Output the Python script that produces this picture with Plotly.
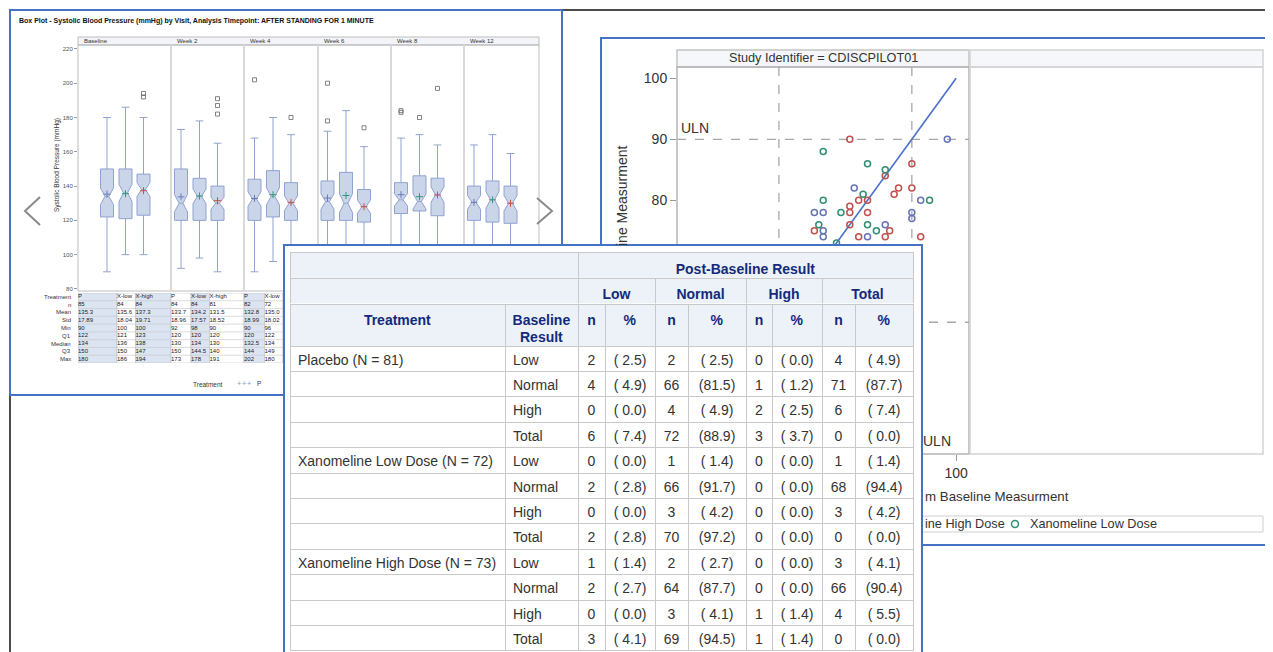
import plotly.graph_objects as go

W, H = 1273, 652
OFF = 8  # page body margin of the html page
def fx(p): return (p - OFF) / W
def fy(p): return 1 - (p - OFF) / H

FONT = "Liberation Sans, Arial, sans-serif"
BLUE = "#4472c4"
NBSP = "\u00a0"

# ================= Box plot data =================
visits = ["Baseline", "Week 2", "Week 4", "Week 6", "Week 8", "Week 12"]
treatments = ["P", "X-low", "X-high"]
q1_vals = [[122, 120, 120, 120, 124, 120],
           [121, 120, 122, 120, 125.5, 119],
           [123, 120, 120, 119, 122.7, 118.3]]
median_vals = [[134, 130, 132.5, 131, 132, 130.5],
               [136, 134, 134, 130, 131, 132],
               [138, 130, 130, 128, 135, 130]]
q3_vals = [[150, 150, 144, 143, 142, 140],
           [150, 144.5, 149, 148, 146, 143],
           [147, 140, 142, 138, 144.6, 140]]
low_whisker = [[90, 92, 90, 92, 94, 95],
               [100, 98, 96, 95, 96, 94],
               [100, 90, 92, 94, 96, 96]]
up_whisker = [[180, 173, 168, 172, 168, 164],
              [186, 178, 180, 184, 170, 170],
              [180, 165, 170, 163, 164, 159]]
mean_vals = [[135.3, 133.7, 132.8, 133.0, 135.0, 130.5],
             [135.6, 134.2, 135.0, 134.5, 133.8, 132.0],
             [137.3, 131.5, 130.5, 128.0, 134.8, 130.0]]
notch_half = [[4.8, 5.1, 4.2, 4.5, 3.6, 4.0],
              [5.0, 4.2, 5.0, 5.5, 4.5, 4.8],
              [4.1, 3.5, 4.3, 3.8, 4.5, 4.5]]
outlier_visit = [0, 0, 1, 1, 1, 2, 2, 3, 3, 3, 4, 4, 4, 4]
outlier_trt = [2, 2, 2, 2, 2, 0, 2, 0, 0, 2, 0, 0, 1, 2]
outlier_value = [192, 194, 182, 187, 191, 202, 180, 178, 200, 174, 183, 184, 180, 197]
bp_ticks = [80, 100, 120, 140, 160, 180, 200, 220]
stat_rows = ["Treatment", "n", "Mean", "Std", "Min", "Q1", "Median", "Q3", "Max"]
stat_n = [[85, 84, 84], [84, 84, 81], [82, 72]]
stat_std = [[17.89, 18.04, 19.71], [18.96, 17.57, 18.52], [18.99, 18.02]]

# ================= Scatter data =================
sc_groups = ["Placebo", "Xanomeline High Dose", "Xanomeline Low Dose"]
placebo_x = [98, 77, 92, 68, 70, 90, 90, 84, 70, 70, 80]
placebo_y = [90, 82, 80, 78, 78, 78, 77, 76, 75, 74, 74]
high_x = [76, 90, 84, 87, 86, 90, 78, 80, 76, 76, 80, 76, 68, 85, 78, 84, 92]
high_y = [90, 86, 84, 82, 81, 82, 80, 80, 78, 79, 78, 76, 75, 75, 74, 74, 74]
low_x = [70, 80, 84, 79, 94, 70, 74, 69, 80, 82, 73]
low_y = [88, 86, 85, 81, 80, 80, 78, 76, 76, 75, 73]
uln_value = 90
lln_value = 60
identity_ends = [38, 100]
sc_xticks = [100]          # visible x tick
sc_yticks = [80, 90, 100]  # visible y ticks

# ================= Shift table data =================
tbl_treat = ["Placebo (N = 81)", "Xanomeline Low Dose (N = 72)", "Xanomeline High Dose (N = 73)"]
tbl_base = ["Low", "Normal", "High", "Total"]
post_groups = ["Low", "Normal", "High", "Total"]
tbl_n = [
    [[2, 2, 0, 4], [4, 66, 1, 71], [0, 4, 2, 6], [6, 72, 3, 0]],
    [[0, 1, 0, 1], [2, 66, 0, 68], [0, 3, 0, 3], [2, 70, 0, 0]],
    [[1, 2, 0, 3], [2, 64, 0, 66], [0, 3, 1, 4], [3, 69, 1, 0]],
]
tbl_pct = [
    [[2.5, 2.5, 0.0, 4.9], [4.9, 81.5, 1.2, 87.7], [0.0, 4.9, 2.5, 7.4], [7.4, 88.9, 3.7, 0.0]],
    [[0.0, 1.4, 0.0, 1.4], [2.8, 91.7, 0.0, 94.4], [0.0, 4.2, 0.0, 4.2], [2.8, 97.2, 0.0, 0.0]],
    [[1.4, 2.7, 0.0, 4.1], [2.7, 87.7, 0.0, 90.4], [0.0, 4.1, 1.4, 5.5], [4.1, 94.5, 1.4, 0.0]],
]

# ================= layout constants =================
col_edges = [78, 171, 244, 318, 391, 464, 539]
box_anchor = [97, 171, 244.5, 317.5, 391, 464]
box_offset = [10, 28.5, 46.5]
def bpos(v, t):
    return box_anchor[v] + box_offset[t]

BOX_FILL = "#cbd5ea"
BOX_LINE = "#8fa2d0"
MEAN_COLORS = ["#6b7bb8", "#2e9a7a", "#c8504a"]
SC_COLORS = ["#6572b6", "#c0504d", "#2f8f72"]

fig = go.Figure()
shapes = []
ann = []

def rect(x0, y0, x1, y1, line="#bdbdbd", width=1, fill=None, layer="below"):
    return dict(type="rect", xref="paper", yref="paper", x0=fx(x0), x1=fx(x1), y0=fy(y0), y1=fy(y1),
                line=dict(color=line, width=width), layer=layer,
                fillcolor=fill if fill else "rgba(0,0,0,0)")

def text(x, y, s, size=12, color="#333", xanchor="center", yanchor="middle", angle=0, bold=False):
    ann.append(dict(xref="paper", yref="paper", x=fx(x), y=fy(y), text=("<b>%s</b>" % s) if bold else s,
                    showarrow=False, xanchor=xanchor, yanchor=yanchor, textangle=angle,
                    font=dict(family=FONT, size=size, color=color)))

# ---- slide frame + panels (background) ----
shapes.append(dict(type="line", xref="paper", yref="paper", x0=fx(10), x1=fx(10), y0=fy(10), y1=fy(700),
                   line=dict(color="#111", width=1.5), layer="below"))
shapes.append(dict(type="line", xref="paper", yref="paper", x0=fx(10), x1=fx(1300), y0=fy(10), y1=fy(10),
                   line=dict(color="#111", width=1.5), layer="below"))
shapes.append(rect(601, 38, 1300, 545, line=BLUE, width=2, fill="white"))
shapes.append(rect(10, 10, 562, 395, line=BLUE, width=2, fill="white"))

# ---- box plot panel ----
text(17, 21, "Box Plot - Systolic Blood Pressure (mmHg) by Visit, Analysis Timepoint: AFTER STANDING FOR 1 MINUTE",
     size=7, color="#111", xanchor="left", bold=True)
shapes.append(rect(78, 37, 539, 45, fill="#f2f4f9"))
shapes.append(rect(78, 45, 539, 291))
for v, name in enumerate(visits):
    text(col_edges[v] + 4, 41.5, name, size=6, xanchor="left")
for e in col_edges[1:-1]:
    shapes.append(dict(type="line", xref="x", yref="y domain", x0=e, x1=e, y0=0, y1=1,
                       line=dict(color="#d9d9d9", width=2), layer="below"))
text(57, 165, "Systolic Blood Pressure (mmHg)", size=6.5, angle=-90)
# carousel arrows
shapes.append(dict(type="path", xref="paper", yref="paper",
                   path="M %f,%f L %f,%f L %f,%f" % (fx(40), fy(197), fx(25), fy(211), fx(40), fy(225)),
                   line=dict(color="#8a8a8a", width=2), layer="below"))
shapes.append(dict(type="path", xref="paper", yref="paper",
                   path="M %f,%f L %f,%f L %f,%f" % (fx(537), fy(198), fx(552), fy(211), fx(537), fy(224)),
                   line=dict(color="#8a8a8a", width=2), layer="below"))

for t, trt in enumerate(treatments):
    xs = [bpos(v, t) for v in range(len(visits))]
    fig.add_trace(go.Box(
        x=xs, q1=q1_vals[t], median=median_vals[t], q3=q3_vals[t],
        lowerfence=low_whisker[t], upperfence=up_whisker[t], notchspan=notch_half[t],
        notched=True, notchwidth=0.35, width=13, whiskerwidth=0.6,
        fillcolor=BOX_FILL, line=dict(color=BOX_LINE, width=1),
        boxpoints=False, xaxis="x", yaxis="y", showlegend=False, hoverinfo="skip", name=trt))
    fig.add_trace(go.Scatter(
        x=xs, y=mean_vals[t], mode="markers", xaxis="x", yaxis="y", showlegend=False, hoverinfo="skip",
        marker=dict(symbol="cross-thin", size=5, line=dict(width=1, color=MEAN_COLORS[t]))))

fig.add_trace(go.Scatter(
    x=[bpos(v, t) for v, t in zip(outlier_visit, outlier_trt)], y=outlier_value,
    mode="markers", xaxis="x", yaxis="y", showlegend=False, hoverinfo="skip",
    marker=dict(symbol="square-open", size=4, color="#666", line=dict(width=0.8, color="#666"))))

# ---- stats table under the box plot ----
def fmtv(v):
    return f"{v:g}"

tx, ty, ts = [], [], []
for v in range(len(visits)):
    for t in range(3):
        left = col_edges[v] if t == 0 else bpos(v, t - 1) + 10
        right = col_edges[v + 1] if t == 2 else bpos(v, t) + 10
        k = 3 * v + t
        shapes.append(dict(type="rect", xref="x2", yref="y2", x0=left, x1=right, y0=0, y1=len(stat_rows),
                           fillcolor="#dce4f2" if k % 2 == 0 else "white",
                           line=dict(color="#bfbfbf", width=0.6), layer="below"))
        if v < len(stat_n) and t < len(stat_n[v]):
            vals = [treatments[t], str(stat_n[v][t]), f"{mean_vals[t][v]:.1f}", f"{stat_std[v][t]:.2f}",
                    fmtv(low_whisker[t][v]), fmtv(q1_vals[t][v]), fmtv(median_vals[t][v]), fmtv(q3_vals[t][v]),
                    fmtv(max([up_whisker[t][v]] + [o for ov, ot, o in zip(outlier_visit, outlier_trt, outlier_value)
                                                   if ov == v and ot == t]))]
            for r, s in enumerate(vals):
                tx.append(left)
                ty.append(r + 0.5)
                ts.append(s)
for r in range(1, len(stat_rows)):
    shapes.append(dict(type="line", xref="x2", yref="y2", x0=col_edges[0], x1=col_edges[-1], y0=r, y1=r,
                       line=dict(color="#c4c4c4", width=0.6), layer="below"))
fig.add_trace(go.Scatter(x=tx, y=ty, text=ts, mode="text", textposition="middle right",
                         textfont=dict(family=FONT, size=6, color="#222"), xaxis="x2", yaxis="y2",
                         showlegend=False, hoverinfo="skip", cliponaxis=False))
for r, name in enumerate(stat_rows):
    text(73, 293 + (r + 0.5) * 70 / 9, name, size=6, xanchor="right")
# legend of the box plot (visible part)
text(208, 384, "Treatment", size=6.5)
for i, xx in enumerate([239, 244.5, 250]):
    text(xx, 383, "+", size=7.5, color="#8c9acb")
text(259, 383.5, "P", size=6.5)

# ---- scatter panel ----
shapes.append(rect(677, 50, 969, 67, line="#c4c4c4", width=1.5, fill="#f6f7fb"))
shapes.append(rect(677, 67, 969, 454, line="#b5b5b5", width=1.5))
shapes.append(rect(970, 50, 1263, 67, line="#d4d4d4", width=1.5, fill="#f6f7fb"))
shapes.append(rect(970, 67, 1263, 454, line="#d4d4d4", width=1.5))
text(823, 58.5, "Study Identifier = CDISCPILOT01", size=12.7)
for val in (uln_value, lln_value):
    shapes.append(dict(type="line", xref="x3 domain", yref="y3", x0=0, x1=1, y0=val, y1=val,
                       line=dict(color="#a8a8a8", width=1.3, dash="dash"), layer="below"))
    shapes.append(dict(type="line", xref="x3", yref="y3 domain", x0=val, x1=val, y0=0, y1=1,
                       line=dict(color="#a8a8a8", width=1.3, dash="dash"), layer="below"))
ann.append(dict(xref="x3 domain", yref="y3", x=0.008, y=uln_value, text="ULN", showarrow=False,
                xanchor="left", yanchor="bottom", yshift=1, font=dict(family=FONT, size=14, color="#333")))
ann.append(dict(xref="x3", yref="y3 domain", x=uln_value, y=0, text="ULN", showarrow=False,
                xanchor="left", yanchor="bottom", xshift=9, yshift=3, font=dict(family=FONT, size=14, color="#333")))

fig.add_trace(go.Scatter(x=identity_ends, y=identity_ends, mode="lines", xaxis="x3", yaxis="y3",
                         line=dict(color="#4a70c8", width=1.6), showlegend=False, hoverinfo="skip"))
for gx, gy, col, nm in [(placebo_x, placebo_y, SC_COLORS[0], sc_groups[0]),
                        (high_x, high_y, SC_COLORS[1], sc_groups[1]),
                        (low_x, low_y, SC_COLORS[2], sc_groups[2])]:
    fig.add_trace(go.Scatter(x=gx, y=gy, mode="markers", xaxis="x3", yaxis="y3", name=nm, showlegend=False,
                             marker=dict(symbol="circle-open", size=6, color=col, line=dict(width=1.5, color=col))))

text(622, 196, "ine Measurment", size=14, angle=-90)
text(923, 496, "m Baseline Measurment", size=13.3, xanchor="left")
shapes.append(rect(640, 516, 1263, 532, line="#cfcfcf", width=1))
text(923, 524, "ine High Dose", size=12.7, xanchor="left")
shapes.append(dict(type="circle", xref="paper", yref="paper", x0=fx(1011.5), x1=fx(1018.5), y0=fy(520.5), y1=fy(527.5),
                   line=dict(color=SC_COLORS[2], width=1.5), layer="below"))
text(1028, 524, "Xanomeline Low Dose", size=12.7, xanchor="left")

# ---- shift table (front panel) ----
HDR_FILL = "#edf1f8"
HDR_FONT = "#132a7a"
GRID = "#c9c9c9"
# opaque white backing of the table panel
fig.add_trace(go.Table(domain=dict(x=[fx(284), fx(922)], y=[0, fy(245)]), columnwidth=[1],
                       header=dict(values=[""], height=360, fill_color="white", line_color="white"),
                       cells=dict(values=[[""]], height=30, fill_color="white", line_color="white")))
fig.add_trace(go.Table(domain=dict(x=[fx(290), fx(913)], y=[fy(278.3), fy(252.7)]), columnwidth=[288, 335],
                       header=dict(values=["", "<b>Post-Baseline Result</b>"], height=25.6, fill_color=HDR_FILL,
                                   line_color=GRID, align="center",
                                   font=dict(family=FONT, size=14, color=HDR_FONT))))
fig.add_trace(go.Table(domain=dict(x=[fx(290), fx(913)], y=[fy(304), fy(278.3)]), columnwidth=[288, 77, 91, 76, 91],
                       header=dict(values=[""] + ["<b>%s</b>" % g for g in post_groups], height=25.7,
                                   fill_color=HDR_FILL, line_color=GRID, align="center",
                                   font=dict(family=FONT, size=14, color=HDR_FONT))))
col_treat, col_base = [], []
n_cols = [[] for _ in post_groups]
p_cols = [[] for _ in post_groups]
for i, tr in enumerate(tbl_treat):
    for j, b in enumerate(tbl_base):
        col_treat.append(tr.replace(" ", NBSP) if j == 0 else "")
        col_base.append(b)
        for g in range(len(post_groups)):
            n_cols[g].append(str(tbl_n[i][j][g]))
            p_cols[g].append(f"({tbl_pct[i][j][g]:4.1f})".replace(" ", NBSP))
cell_values = [col_treat, col_base]
hdr_values = ["<b>Treatment</b>", "<b>Baseline</b>"]
for g in range(len(post_groups)):
    cell_values += [n_cols[g], p_cols[g]]
    hdr_values += ["<b>n</b>", "<b>%</b>"]
fig.add_trace(go.Table(domain=dict(x=[fx(290), fx(913)], y=[0, fy(304)]),
                       columnwidth=[215, 73, 27, 50, 33, 58, 26, 50, 33, 58],
                       header=dict(values=hdr_values, height=42, fill_color=HDR_FILL, line_color=GRID,
                                   align="center", font=dict(family=FONT, size=14, color=HDR_FONT)),
                       cells=dict(values=cell_values, height=25.4, fill_color="white", line_color=GRID,
                                  align=["left", "left"] + ["center"] * 8,
                                  font=dict(family=FONT, size=14, color="#333"))))
# second line of the "Baseline Result" header cell
text(541.5, 337, "Result", size=14, color=HDR_FONT, bold=True)
shapes.append(rect(284, 245, 922, 700, line=BLUE, width=2, layer="above"))

noax = dict(showgrid=False, zeroline=False, showticklabels=False, ticks="", showline=False)
fig.update_layout(
    width=W, height=H, autosize=False, margin=dict(l=0, r=0, t=0, b=0),
    paper_bgcolor="white", plot_bgcolor="rgba(0,0,0,0)", template="none",
    showlegend=False, boxmode="overlay",
    xaxis=dict(domain=[fx(78), fx(539)], range=[78, 539], anchor="y", fixedrange=True, **noax),
    yaxis=dict(domain=[fy(291), fy(45)], range=[78.8, 222.3], anchor="x", tickvals=bp_ticks,
               ticks="outside", ticklen=3, tickcolor="#999", showgrid=False, zeroline=False,
               tickfont=dict(family=FONT, size=6, color="#555"), showline=False),
    xaxis2=dict(domain=[fx(78), fx(539)], range=[78, 539], anchor="y2", **noax),
    yaxis2=dict(domain=[fy(363), fy(293)], range=[len(stat_rows), 0], anchor="x2", **noax),
    xaxis3=dict(domain=[fx(677), fx(969)], range=[37.0, 102.9], anchor="y3", tickvals=sc_xticks,
                ticks="outside", ticklen=6, tickcolor="#999", showgrid=False, zeroline=False,
                tickfont=dict(family=FONT, size=14, color="#333"), showline=False),
    yaxis3=dict(domain=[fy(454), fy(67)], range=[38.4, 101.85], anchor="x3", tickvals=sc_yticks,
                ticks="outside", ticklen=6, tickcolor="#999", showgrid=False, zeroline=False,
                tickfont=dict(family=FONT, size=14, color="#333"), showline=False),
    shapes=shapes, annotations=ann,
)
fig.write_html("out.html")
